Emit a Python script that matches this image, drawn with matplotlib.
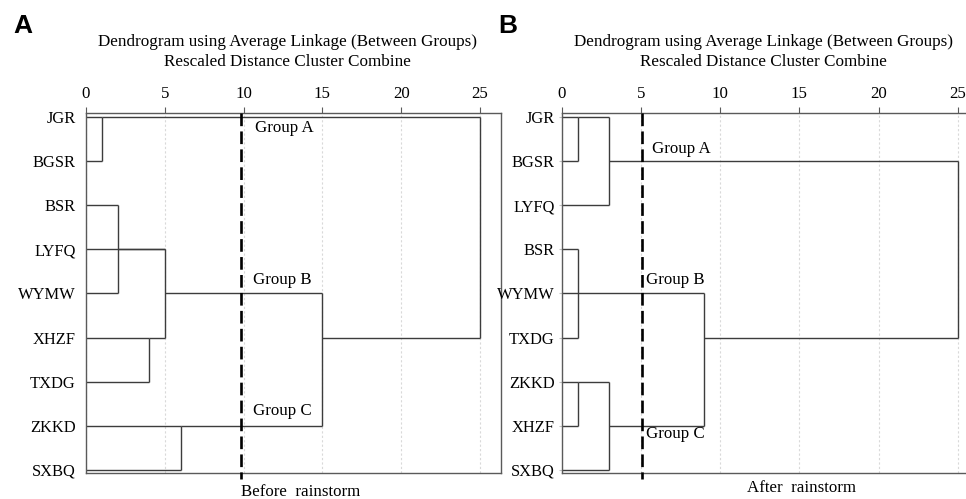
import matplotlib
matplotlib.use('Agg')
import matplotlib.pyplot as plt

plt.rcParams['font.family'] = ['Liberation Serif', 'DejaVu Serif']

# leaf order (top to bottom) and merges: (children, height, row of outgoing line)
# node ids: leaves 0..8, merges numbered from 9 in list order
leaves_before = ['JGR', 'BGSR', 'BSR', 'LYFQ', 'WYMW', 'XHZF', 'TXDG', 'ZKKD', 'SXBQ']
merges_before = [
    ([0, 1], 1, 0),          # 9
    ([2, 4], 2, 3),          # 10
    ([5, 6], 4, 5),          # 11
    ([3, 10, 11], 5, 4),     # 12
    ([7, 8], 6, 7),          # 13
    ([12, 13], 15, 5),       # 14
    ([9, 14], 25, None),     # 15
]
cut_before = 9.85

leaves_after = ['JGR', 'BGSR', 'LYFQ', 'BSR', 'WYMW', 'TXDG', 'ZKKD', 'XHZF', 'SXBQ']
merges_after = [
    ([0, 1], 1, 0),          # 9
    ([9, 2], 3, 1),          # 10
    ([3, 4, 5], 1, 4),       # 11
    ([6, 7], 1, 6),          # 12
    ([12, 8], 3, 7),         # 13
    ([11, 13], 9, 5),        # 14
    ([10, 14], 25, None),    # 15
]
cut_after = 5.1

group_labels = ['Group A', 'Group B', 'Group C']
groups_before_pos = [(10.72, 0.25), (10.6, 3.7), (10.6, 6.67)]
groups_after_pos = [(5.7, 0.73), (5.3, 3.7), (5.3, 7.18)]

xticks = [0, 5, 10, 15, 20, 25]
title_lines = ['Dendrogram using Average Linkage (Between Groups)',
               'Rescaled Distance Cluster Combine']

LINE = '#3c3c3c'
SPINE = '#5a5a5a'
W, H = 966, 499


def draw_dendrogram(ax, leaves, merges):
    nodes = [(i, 0) for i in range(len(leaves))]  # (row, x) of each node's outgoing line
    for children, h, out_row in merges:
        rows = []
        for c in children:
            r, x0 = nodes[c]
            ax.plot([x0, h], [r, r], color=LINE, lw=1.0, solid_capstyle='butt')
            rows.append(r)
        ax.plot([h, h], [min(rows), max(rows)], color=LINE, lw=1.0, solid_capstyle='butt')
        nodes.append((out_row, h))


def setup_axes(ax, leaves, xmax, label_pad, ytick_color):
    ax.set_xlim(0, xmax)
    ax.set_ylim(8.07, -0.09)
    ax.xaxis.tick_top()
    ax.set_xticks(xticks)
    ax.set_xticklabels([str(t) for t in xticks], fontsize=12.2)
    ax.tick_params(axis='x', direction='out', length=4, width=0.8, color=SPINE, pad=4)
    ax.set_yticks(range(len(leaves)))
    ax.set_yticklabels(leaves, fontsize=11.9)
    ax.tick_params(axis='y', direction='out', length=2, width=0.8, color=ytick_color, pad=label_pad)
    ax.grid(axis='x', color='#d9d9d9', linestyle=(0, (2, 2)), lw=0.8)
    ax.set_axisbelow(True)
    for s in ax.spines.values():
        s.set_color(SPINE)
        s.set_linewidth(1.0)


def draw_cut(ax, x):
    ln, = ax.plot([x, x], [-0.09, 8.2], color='black', lw=1.9, clip_on=False, zorder=5)
    ln.set_dashes((4.8, 2.0))


fig = plt.figure(figsize=(W / 100, H / 100), dpi=100)
bottom = 1 - 473 / H
height = (473 - 113) / H

ax1 = fig.add_axes([86 / W, bottom, (501 - 86) / W, height])
draw_dendrogram(ax1, leaves_before, merges_before)
setup_axes(ax1, leaves_before, (501 - 86) / 15.76, 5.5, 'white')
draw_cut(ax1, cut_before)
for lab, (gx, gy) in zip(group_labels, groups_before_pos):
    ax1.text(gx, gy, lab, fontsize=12.2, ha='left', va='center')
ax1.text(cut_before, 8.59, 'Before  rainstorm', fontsize=12.2, ha='left', va='baseline',
         clip_on=False)

ax2 = fig.add_axes([561.7 / W, bottom, (965.5 - 561.7) / W, height])
draw_dendrogram(ax2, leaves_after, merges_after)
setup_axes(ax2, leaves_after, (965.5 - 561.7) / 15.84, 3.0, '#c4c4c4')
ax2.spines['right'].set_visible(False)
draw_cut(ax2, cut_after)
for lab, (gx, gy) in zip(group_labels, groups_after_pos):
    ax2.text(gx, gy, lab, fontsize=12.2, ha='left', va='center')
ax2.text(11.68, 8.51, 'After  rainstorm', fontsize=12.2, ha='left', va='baseline',
         clip_on=False)

# titles above each panel
for cx in (287.5, 763):
    fig.text(cx / W, 1 - 46.5 / H, title_lines[0], fontsize=12.3, ha='center', va='baseline')
    fig.text(cx / W, 1 - 66 / H, title_lines[1], fontsize=12.3, ha='center', va='baseline')

fig.text(13 / W, 1 - 33 / H, 'A', fontsize=19, fontweight='bold', family='Liberation Sans',
         ha='left', va='baseline')
fig.text(498 / W, 1 - 33 / H, 'B', fontsize=19, fontweight='bold', family='Liberation Sans',
         ha='left', va='baseline')

fig.savefig('out.png', dpi=100)
